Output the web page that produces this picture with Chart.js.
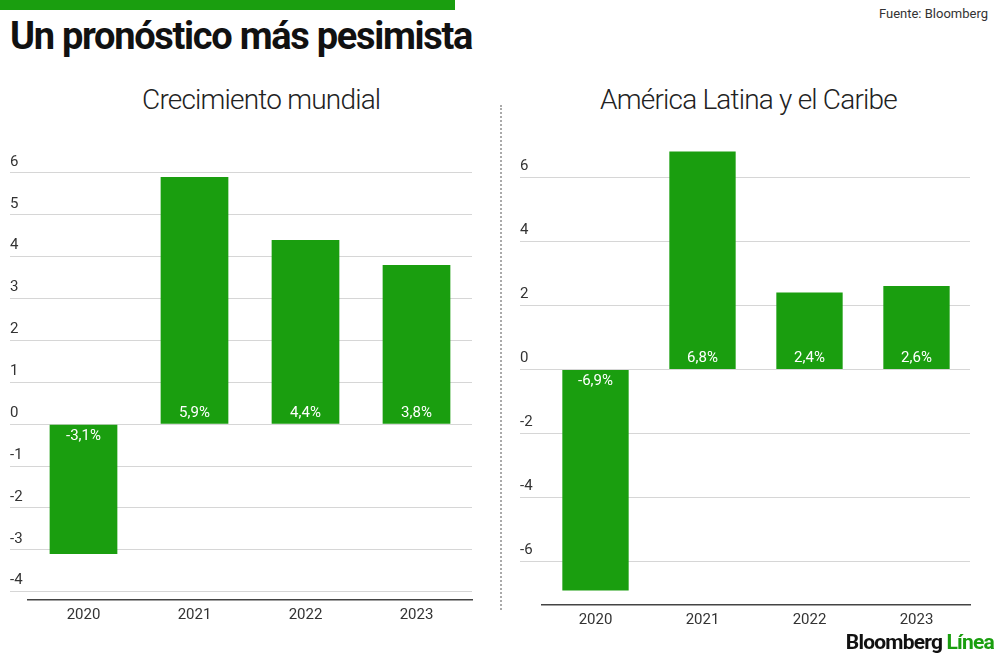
<!DOCTYPE html>
<html>
<head>
<meta charset="utf-8">
<script src="https://cdn.jsdelivr.net/npm/chart.js@4"></script>
<style>
  body { margin: 0; width: 1000px; height: 655px; background: #fff; position: relative; overflow: hidden; font-family: Roboto, sans-serif; }
  .topbar { position: absolute; left: 0; top: 0; width: 455px; height: 10px; background: #1a9e0f; }
  h1 { position: absolute; left: 10px; top: 14px; margin: 0; font-size: 38px; font-weight: 700; letter-spacing: -1.3px; color: #111; }
  .src { position: absolute; right: 12px; top: 6px; font-size: 13px; color: #333; }
  .sub { position: absolute; top: 83px; font-size: 28px; font-weight: 300; letter-spacing: -0.8px; color: #222; }
  .divider { position: absolute; left: 500px; top: 105px; height: 505px; border-left: 2px dotted #aaa; }
  .logo { position: absolute; right: 6px; top: 630px; font-size: 21px; font-weight: 700; letter-spacing: -0.8px; color: #111; }
  .logo span { color: #1a9e0f; }
  .wrap { position: absolute; }
</style>
</head>
<body>
<div class="topbar"></div>
<h1>Un pronóstico más pesimista</h1>
<div class="src">Fuente: Bloomberg</div>
<div class="sub" style="left:142px">Crecimiento mundial</div>
<div class="sub" style="left:600px">América Latina y el Caribe</div>
<div class="divider"></div>
<div class="wrap" style="left:0;top:140px;width:480px;height:490px"><canvas id="c1"></canvas></div>
<div class="wrap" style="left:500px;top:133px;width:500px;height:502px"><canvas id="c2"></canvas></div>
<div class="logo">Bloomberg <span>Línea</span></div>
<script>
const years = ['2020', '2021', '2022', '2023'];
const worldGrowth = [-3.1, 5.9, 4.4, 3.8];
const latamGrowth = [-6.9, 6.8, 2.4, 2.6];
const worldTicks = [-4, -3, -2, -1, 0, 1, 2, 3, 4, 5, 6];
const latamTicks = [-6, -4, -2, 0, 2, 4, 6];

const GREEN = '#1a9e0f';

const valueLabels = {
  id: 'valueLabels',
  afterDatasetsDraw(chart) {
    const ctx = chart.ctx;
    const y0 = chart.scales.y.getPixelForValue(0);
    ctx.save();
    ctx.fillStyle = '#fff';
    ctx.font = '15px Roboto';
    ctx.textAlign = 'center';
    ctx.textBaseline = 'middle';
    chart.getDatasetMeta(0).data.forEach((bar, i) => {
      const v = chart.data.datasets[0].data[i];
      const txt = v.toFixed(1).replace('.', ',') + '%';
      ctx.fillText(txt, bar.x, v >= 0 ? y0 - 11 : y0 + 12);
    });
    ctx.restore();
  }
};

function makeChart(id, values, ticks, min, max, pad, axisW, barPct) {
  new Chart(document.getElementById(id), {
    type: 'bar',
    data: {
      labels: years,
      datasets: [{ data: values, backgroundColor: GREEN, categoryPercentage: 1, barPercentage: barPct }]
    },
    options: {
      responsive: true,
      maintainAspectRatio: false,
      animation: false,
      layout: { padding: pad },
      plugins: { legend: { display: false }, tooltip: { enabled: false } },
      scales: {
        x: {
          grid: { display: false, drawTicks: false },
          border: { color: '#444', width: 1.5 },
          ticks: { color: '#333', font: { size: 15, family: 'Roboto' }, padding: 6 },
          afterFit(s) { s.height = 30; }
        },
        y: {
          min: min, max: max,
          afterBuildTicks(s) { s.ticks = ticks.map(v => ({ value: v })); },
          afterFit(s) { s.width = axisW; },
          border: { display: false },
          grid: { color: '#d6d6d6', tickLength: axisW, tickColor: '#d6d6d6' },
          ticks: { color: '#333', font: { size: 15, family: 'Roboto' }, crossAlign: 'far', labelOffset: -11, padding: 0 }
        }
      }
    },
    plugins: [valueLabels]
  });
}

makeChart('c1', worldGrowth, worldTicks, -4.2, 6.5, { left: 10, right: 8, top: 12, bottom: 0 }, 18, 0.61);
makeChart('c2', latamGrowth, latamTicks, -7.35, 7, { left: 20, right: 30, top: 12, bottom: 0 }, 22, 0.62);
</script>
</body>
</html>
